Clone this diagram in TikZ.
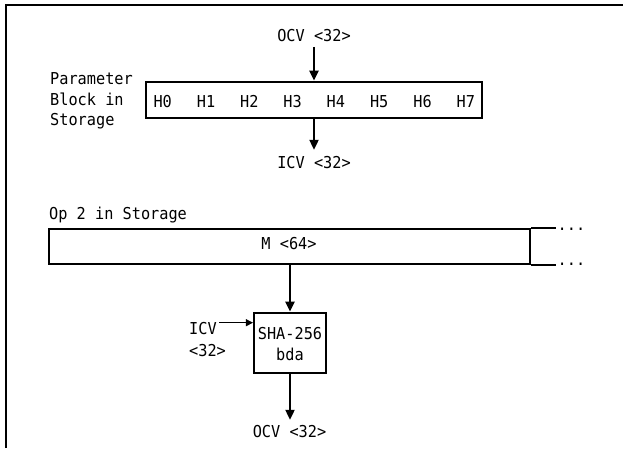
\documentclass[tikz,border=0pt]{standalone}
\usepackage{fontspec}
\newfontfamily\mono[FakeStretch=0.93]{DejaVu Sans Mono}
\usetikzlibrary{arrows.meta}
\begin{document}
\begin{tikzpicture}[x=1pt,y=-1pt,
  txt/.style={font=\mono\fontsize{16.4pt}{20.6pt}\selectfont, inner sep=0pt, text height=12pt, text depth=0pt, anchor=base},
  multi/.style={font=\mono\fontsize{16.4pt}{20.6pt}\selectfont, inner sep=0pt, align=left, anchor=base west},
  box/.style={draw, line width=2.1pt, inner sep=0pt},
  arr/.style={line width=2.1pt, -{Triangle[length=10pt,width=9pt]}},
  thinarr/.style={line width=1pt, -{Triangle[length=7pt,width=7pt]}}]
\useasboundingbox (0,0) rectangle (623,448);
\draw[line width=2.1pt] (5.8,448) -- (5.8,5) -- (623,5);

% Parameter block
\node[multi] (plabel) at (50,125.7) {Parameter\\Block in\\Storage};
\node[txt] (ocvtop) at (314,41.7) {OCV <32>};
\node[box, minimum width=336.6pt, minimum height=36pt] (pb) at (314,99.7) {};
\foreach \i/\x in {0/162.7,1/206,2/249.3,3/292.6,4/335.9,5/379.2,6/422.5,7/465.8}
  \node[txt] (h\i) at (\x,107) {H\i};
\node[txt] (icvtop) at (314,168) {ICV <32>};
\draw[arr, shorten <=5pt] (ocvtop.south) -- (pb.north);
\draw[arr, shorten >=6pt] (pb.south) -- (icvtop.north);

% Op 2
\node[txt, anchor=base west] (op) at (49,219.3) {Op 2 in Storage};
\node[box, minimum width=480.7pt, minimum height=35pt] (mbox) at (289.65,246.8) {};
\draw[line width=2.1pt] (mbox.north east) -- ++(25,0) coordinate (mtopend);
\draw[line width=2.1pt] (mbox.south east) -- ++(25,0) coordinate (mbotend);
\node[txt, anchor=base west] (dots1) at (557.5,230.5) {...};
\node[txt, anchor=base west] (dots2) at (557.5,265.5) {...};
\node[txt] (m) at (289,249) {M <64>};

% SHA box
\node[box, minimum width=72pt, minimum height=60pt] (sha) at (290,342.7) {};
\node[txt] (sha1) at (290,339.3) {SHA-256};
\node[txt] (sha2) at (290,360) {bda};
\draw[arr] (mbox.south -| sha.north) -- (sha.north);

\node[txt, anchor=base west] (icvl) at (189,334.3) {ICV};
\node[txt, anchor=base west] (icvl2) at (189,356) {<32>};
\draw[thinarr] ([xshift=2.5pt,yshift=5.6pt]icvl.east) -- ([yshift=5.6pt]icvl.east -| sha.west);

\node[txt] (ocvbot) at (289.5,437.3) {OCV <32>};
\draw[arr, shorten >=5.3pt] (sha.south) -- (sha.south |- ocvbot.north);
\end{tikzpicture}
\end{document}
